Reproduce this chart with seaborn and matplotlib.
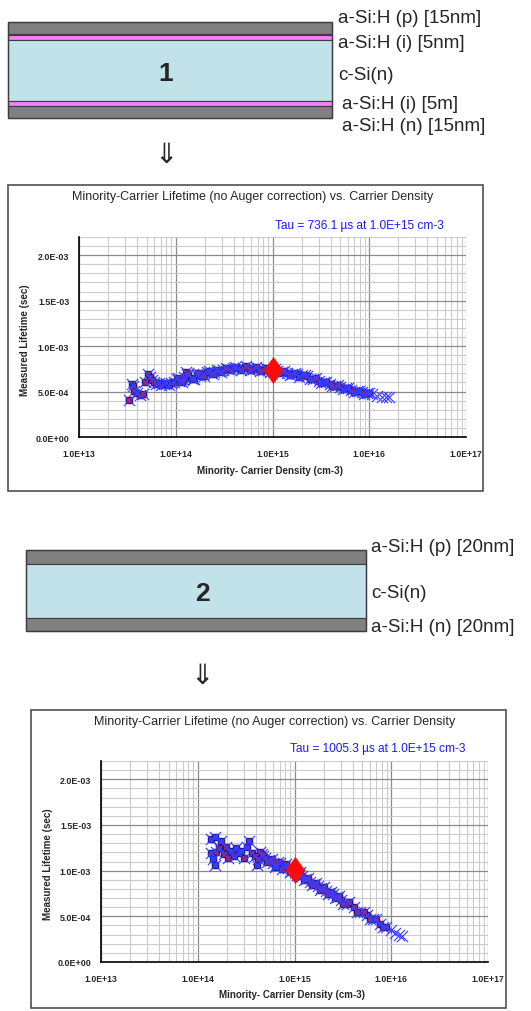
import matplotlib
matplotlib.use("Agg")
import matplotlib.pyplot as plt
from matplotlib.patches import Rectangle
from matplotlib.ticker import FixedLocator, LogLocator, MultipleLocator, NullFormatter
import pandas as pd
import seaborn as sns

# ---------------- data ----------------
# Sample 1: a-Si:H (p/i) / c-Si(n) / a-Si:H (i/n)
n1 = [3.3e13, 3.5e13, 3.6e13, 3.7e13, 4.0e13, 4.3e13, 4.6e13, 4.8e13, 5.2e13, 5.4e13,
      5.7e13, 6.0e13, 6.3e13, 6.7e13, 7.1e13, 7.6e13, 8.0e13, 8.5e13, 9.0e13, 9.6e13,
      1.02e14, 1.08e14, 1.15e14, 1.22e14, 1.28e14, 1.35e14, 1.45e14, 1.55e14, 1.65e14, 1.78e14,
      1.9e14, 2.1e14, 2.3e14, 2.5e14, 2.8e14, 3.1e14, 3.5e14, 3.9e14, 4.4e14, 5.0e14,
      5.6e14, 6.3e14, 7.0e14, 8.0e14, 9.0e14, 1.0e15, 1.12e15, 1.25e15, 1.4e15, 1.6e15,
      1.8e15, 2.0e15, 2.3e15, 2.6e15, 3.0e15, 3.4e15, 3.9e15, 4.4e15, 5.0e15, 5.7e15,
      6.5e15, 7.4e15, 8.4e15, 9.5e15,
      1.05e14, 1.18e14, 1.32e14, 1.5e14, 1.7e14, 1.95e14, 2.2e14, 2.4e14, 2.65e14, 2.95e14,
      3.3e14, 3.7e14, 4.1e14, 4.7e14, 5.3e14, 5.9e14, 6.7e14, 7.5e14, 8.5e14, 9.5e14,
      1.06e15, 1.18e15, 1.32e15, 1.5e15, 1.7e15, 1.9e15, 2.15e15, 2.45e15, 2.8e15, 3.2e15,
      3.6e15, 4.1e15, 4.7e15, 5.3e15, 6.1e15, 6.9e15, 7.9e15, 8.9e15, 1.0e16]
tau1 = [4.1e-4, 5.8e-4, 5.6e-4, 5.1e-4, 4.8e-4, 4.65e-4, 4.7e-4, 6.1e-4, 6.9e-4, 6.6e-4,
        6.3e-4, 6.0e-4, 5.8e-4, 5.9e-4, 5.7e-4, 5.8e-4, 5.9e-4, 5.7e-4, 5.9e-4, 6.1e-4,
        6.4e-4, 6.2e-4, 6.0e-4, 6.6e-4, 7.1e-4, 6.8e-4, 6.5e-4, 6.4e-4, 6.8e-4, 6.7e-4,
        6.9e-4, 7.1e-4, 7.0e-4, 7.2e-4, 7.3e-4, 7.35e-4, 7.5e-4, 7.55e-4, 7.6e-4, 7.55e-4,
        7.6e-4, 7.5e-4, 7.45e-4, 7.4e-4, 7.35e-4, 7.3e-4, 7.25e-4, 7.15e-4, 7.05e-4, 6.95e-4,
        6.9e-4, 6.85e-4, 6.7e-4, 6.4e-4, 6.15e-4, 6.0e-4, 5.8e-4, 5.65e-4, 5.5e-4, 5.4e-4,
        5.2e-4, 5.05e-4, 4.95e-4, 4.85e-4,
        6.5e-4, 6.3e-4, 6.9e-4, 6.4e-4, 7.0e-4, 6.75e-4, 7.25e-4, 6.95e-4, 7.4e-4, 7.15e-4,
        7.6e-4, 7.35e-4, 7.75e-4, 7.4e-4, 7.8e-4, 7.35e-4, 7.7e-4, 7.25e-4, 7.6e-4, 7.15e-4,
        7.5e-4, 7.0e-4, 7.3e-4, 6.8e-4, 7.05e-4, 6.6e-4, 6.85e-4, 6.35e-4, 6.45e-4, 5.95e-4,
        6.05e-4, 5.6e-4, 5.7e-4, 5.3e-4, 5.4e-4, 5.0e-4, 5.1e-4, 4.75e-4, 4.85e-4]
n1_tail = [1.07e16, 1.2e16, 1.35e16, 1.5e16, 1.6e16]
tau1_tail = [4.7e-4, 4.55e-4, 4.45e-4, 4.45e-4, 4.4e-4]
tau1_ref = 736.1e-6

# Sample 2: a-Si:H (p) / c-Si(n) / a-Si:H (n)
n2 = [1.38e14, 1.5e14, 1.36e14, 1.45e14, 1.5e14, 1.55e14, 1.65e14, 1.75e14, 1.85e14, 1.95e14,
      2.05e14, 2.2e14, 2.35e14, 2.5e14, 2.65e14, 2.8e14, 3.0e14, 3.2e14, 3.4e14, 3.6e14,
      3.9e14, 4.1e14, 4.4e14, 4.7e14, 5.0e14, 5.5e14, 6.0e14, 6.5e14, 7.0e14, 7.8e14,
      8.5e14, 9.3e14, 1.0e15, 1.1e15, 1.2e15, 1.3e15, 1.45e15, 1.6e15, 1.75e15, 1.9e15,
      2.1e15, 2.3e15, 2.5e15, 2.75e15, 3.0e15, 3.5e15, 4.1e15, 4.8e15, 5.6e15, 6.5e15,
      7.6e15, 8.9e15,
      4.2e14, 4.6e14, 5.2e14, 5.8e14, 6.3e14, 6.8e14, 7.4e14, 8.1e14, 8.9e14, 9.7e14,
      1.05e15, 1.15e15, 1.25e15, 1.38e15, 1.52e15, 1.68e15, 1.83e15, 2.0e15, 2.2e15, 2.4e15,
      2.6e15, 2.9e15, 3.2e15, 3.7e15, 4.4e15, 5.2e15, 6.0e15, 7.0e15, 8.2e15]
tau2 = [1.35e-3, 1.37e-3, 1.19e-3, 1.13e-3, 1.06e-3, 1.2e-3, 1.25e-3, 1.32e-3, 1.18e-3, 1.26e-3,
        1.14e-3, 1.22e-3, 1.16e-3, 1.25e-3, 1.19e-3, 1.21e-3, 1.14e-3, 1.26e-3, 1.32e-3, 1.19e-3,
        1.16e-3, 1.06e-3, 1.2e-3, 1.16e-3, 1.14e-3, 1.12e-3, 1.08e-3, 1.06e-3, 1.08e-3, 1.05e-3,
        1.03e-3, 1.0e-3, 9.9e-4, 9.6e-4, 9.4e-4, 9.1e-4, 8.8e-4, 8.55e-4, 8.3e-4, 8.05e-4,
        7.8e-4, 7.6e-4, 7.4e-4, 7.1e-4, 6.8e-4, 6.4e-4, 6.0e-4, 5.5e-4, 5.1e-4, 4.7e-4,
        4.2e-4, 3.8e-4,
        1.13e-3, 1.18e-3, 1.09e-3, 1.13e-3, 1.04e-3, 1.1e-3, 1.02e-3, 1.07e-3, 9.8e-4, 1.03e-3,
        9.5e-4, 9.8e-4, 9.0e-4, 9.2e-4, 8.4e-4, 8.6e-4, 7.9e-4, 8.2e-4, 7.4e-4, 7.7e-4,
        7.0e-4, 7.2e-4, 6.4e-4, 6.6e-4, 5.5e-4, 5.5e-4, 4.7e-4, 4.7e-4, 3.8e-4]
n2_tail = [1.0e16, 1.1e16, 1.2e16, 1.3e16]
tau2_tail = [3.5e-4, 3.2e-4, 3.0e-4, 2.9e-4]
tau2_ref = 1005.3e-6

n_ref = 1.0e15

x_ticks = [1e13, 1e14, 1e15, 1e16, 1e17]
x_tick_labels = ["1.0E+13", "1.0E+14", "1.0E+15", "1.0E+16", "1.0E+17"]
y_ticks = [0.0, 5.0e-4, 1.0e-3, 1.5e-3, 2.0e-3]
y_tick_labels = ["0.0E+00", "5.0E-04", "1.0E-03", "1.5E-03", "2.0E-03"]

chart_title = "Minority-Carrier Lifetime (no Auger correction) vs. Carrier Density"
x_label = "Minority- Carrier Density (cm-3)"
y_label = "Measured Lifetime (sec)"

stack1_labels = ["a-Si:H (p) [15nm]", "a-Si:H (i) [5nm]", "c-Si(n)", "a-Si:H (i) [5m]", "a-Si:H (n) [15nm]"]
stack2_labels = ["a-Si:H (p) [20nm]", "c-Si(n)", "a-Si:H (n) [20nm]"]

# ---------------- style ----------------
sns.set_style("white")
plt.rcParams["font.family"] = ["Liberation Sans", "DejaVu Sans"]

W, H = 531, 1012
fig = plt.figure(figsize=(W / 100, H / 100), dpi=100)

# Pixel-space canvas for the layer stacks, boxes and captions
canvas = fig.add_axes([0, 0, 1, 1], zorder=0)
canvas.set_xlim(0, W)
canvas.set_ylim(H, 0)
canvas.axis("off")

GRAY = "#808080"
CSI = "#c0e2e8"
PINK = "#f57ff5"
EDGE = "#3c3c3c"


def layer(x0, x1, y0, y1, color):
    canvas.add_patch(Rectangle((x0, y0), x1 - x0, y1 - y0, facecolor=color,
                               edgecolor=EDGE, linewidth=0.8))


# stack 1
sx0, sx1 = 8, 332
layer(sx0, sx1, 23, 34.5, GRAY)
layer(sx0, sx1, 34.5, 36.2, "#111111")
layer(sx0, sx1, 36.2, 40.5, PINK)
layer(sx0, sx1, 40.5, 101.5, CSI)
layer(sx0, sx1, 102.2, 106.6, PINK)
layer(sx0, sx1, 106.6, 119, GRAY)
canvas.add_patch(Rectangle((sx0, 23), sx1 - sx0, 96, fill=False, edgecolor=EDGE, linewidth=1.0))
canvas.text(165.5, 74, "1", fontsize=19, fontweight="bold", ha="center", va="center")
for (lx, ly), txt in zip([(338, 18), (338, 43), (338, 75), (342, 104), (342, 126)], stack1_labels):
    canvas.text(lx, ly, txt, fontsize=13.5, ha="left", va="center")
canvas.text(166, 155, "\u21d3", fontsize=20, ha="center", va="center",
            family=["DejaVu Sans"])

# stack 2
tx0, tx1 = 26, 366
layer(tx0, tx1, 551, 565, GRAY)
layer(tx0, tx1, 565, 619, CSI)
layer(tx0, tx1, 619, 632, GRAY)
canvas.add_patch(Rectangle((tx0, 551), tx1 - tx0, 81, fill=False, edgecolor=EDGE, linewidth=1.0))
canvas.text(202, 594, "2", fontsize=19, fontweight="bold", ha="center", va="center")
for (lx, ly), txt in zip([(371, 547), (371, 594), (371, 627)], stack2_labels):
    canvas.text(lx, ly, txt, fontsize=13.5, ha="left", va="center")
canvas.text(202, 676, "\u21d3", fontsize=20, ha="center", va="center",
            family=["DejaVu Sans"])

# chart frames
canvas.add_patch(Rectangle((8, 186), 475, 306, fill=False, edgecolor="#505050", linewidth=1.2))
canvas.add_patch(Rectangle((31, 711), 475, 298, fill=False, edgecolor="#505050", linewidth=1.2))

DIAMOND = [(0, 1), (0.72, 0), (0, -1), (-0.72, 0)]


def lifetime_chart(rect, n, tau, n_tail, tau_tail, tau_ref, title_xy, tau_xy, label_xy):
    left, top, right, bottom = rect
    ax = fig.add_axes([left / W, (H - bottom) / H, (right - left) / W, (bottom - top) / H],
                      zorder=2)
    ax.set_xscale("log")

    main = pd.DataFrame({"n": n, "tau": tau})
    tail = pd.DataFrame({"n": n_tail, "tau": tau_tail})
    allpts = pd.concat([main, tail], ignore_index=True)

    sns.scatterplot(data=main, x="n", y="tau", ax=ax, marker="s", s=20,
                    color="#e8141e", edgecolor="#1c1c78", linewidth=1.0, zorder=3)
    sns.scatterplot(data=allpts, x="n", y="tau", ax=ax, marker="x", s=65,
                    color="#3a3cff", linewidth=0.8, zorder=4)
    sns.scatterplot(x=[n_ref], y=[tau_ref], ax=ax, marker=DIAMOND, s=380,
                    color="#ff0a0a", linewidth=0, zorder=5)

    ax.set_xlim(1e13, 1e17)
    ax.set_ylim(0, 2.2e-3)

    ax.xaxis.set_major_locator(FixedLocator(x_ticks))
    ax.set_xticklabels(x_tick_labels)
    ax.xaxis.set_minor_locator(LogLocator(base=10, subs=[2, 3, 4, 5, 6, 7, 8, 9], numticks=20))
    ax.xaxis.set_minor_formatter(NullFormatter())
    ax.yaxis.set_major_locator(FixedLocator(y_ticks))
    ax.set_yticklabels(y_tick_labels)
    ax.yaxis.set_minor_locator(MultipleLocator(1e-4))

    ax.grid(True, which="major", color="#8a8a8a", linewidth=0.9)
    ax.grid(True, which="minor", color="#cbcbcb", linewidth=0.8)
    ax.set_axisbelow(True)

    for side in ("top", "right"):
        ax.spines[side].set_visible(False)
    for side in ("left", "bottom"):
        ax.spines[side].set_color("black")
        ax.spines[side].set_linewidth(1.2)

    ax.tick_params(axis="x", which="major", direction="inout", length=5, width=1,
                   color="black", pad=6, labelsize=6.2)
    ax.tick_params(axis="x", which="minor", direction="in", length=3, width=0.6, color="#555555")
    ax.tick_params(axis="y", which="major", direction="out", length=3, width=1,
                   color="black", pad=4, labelsize=6.4)
    ax.tick_params(axis="y", which="minor", length=0)
    for lab in ax.get_xticklabels() + ax.get_yticklabels():
        lab.set_fontweight("bold")

    ax.set_xlabel(x_label, fontsize=7, fontweight="bold")
    ax.set_ylabel(y_label, fontsize=7, fontweight="bold")
    ax.xaxis.set_label_coords(0.494, label_xy[1])
    ax.yaxis.set_label_coords(label_xy[0], 0.49)

    canvas.text(title_xy[0], title_xy[1], chart_title, fontsize=9, ha="center", va="center")
    canvas.text(tau_xy[0], tau_xy[1],
                f"Tau = {tau_ref * 1e6:.1f} \u00b5s at 1.0E+15 cm-3",
                fontsize=8.6, color="#1a1aff", ha="center", va="center")
    return ax


lifetime_chart((79, 238, 466, 438), n1, tau1, n1_tail, tau1_tail, tau1_ref,
               (253, 197), (359, 226), (-0.127, -0.138))
lifetime_chart((101, 762, 488, 963), n2, tau2, n2_tail, tau2_tail, tau2_ref,
               (275, 722), (378, 749), (-0.124, -0.132))

fig.savefig("out.png", dpi=100)
